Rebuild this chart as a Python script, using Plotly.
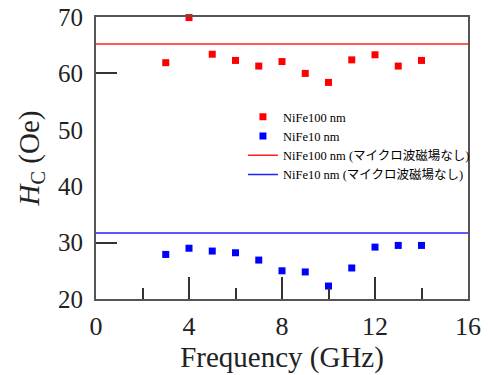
import plotly.graph_objects as go

freq = [3, 4, 5, 6, 7, 8, 9, 10, 11, 12, 13, 14]
hc_100 = [61.9, 69.9, 63.4, 62.3, 61.3, 62.1, 60.0, 58.4, 62.4, 63.3, 61.3, 62.3]
hc_10 = [27.9, 29.0, 28.5, 28.2, 26.9, 25.0, 24.8, 22.3, 25.5, 29.2, 29.5, 29.5]
ref_100 = 65.2
ref_10 = 31.7
names = ["NiFe100 nm", "NiFe10 nm",
         "NiFe100 nm (マイクロ波磁場なし)", "NiFe10 nm (マイクロ波磁場なし)"]

serif = "Liberation Serif, Times New Roman, serif"
legfont = "Liberation Serif, Noto Sans CJK JP, serif"

fig = go.Figure()
fig.add_trace(go.Scatter(x=freq, y=hc_100, mode="markers", name=names[0],
                         marker=dict(symbol="square", size=7, color="#ff0000"),
                         cliponaxis=False))
fig.add_trace(go.Scatter(x=freq, y=hc_10, mode="markers", name=names[1],
                         marker=dict(symbol="square", size=7, color="#0000ff"),
                         cliponaxis=False))
fig.add_trace(go.Scatter(x=[0, 16], y=[ref_100, ref_100], mode="lines", name=names[2],
                         line=dict(color="#ff2020", width=1.5)))
fig.add_trace(go.Scatter(x=[0, 16], y=[ref_10, ref_10], mode="lines", name=names[3],
                         line=dict(color="#2020ff", width=1.5)))

# page has an 8px body margin, so the figure is offset to land the plot area where the reference has it
fig.update_layout(
    width=481, height=367,
    margin=dict(l=88, r=21, t=9, b=76),
    paper_bgcolor="white", plot_bgcolor="white",
    showlegend=True,
    legend=dict(x=0.395, y=0.698, xanchor="left", yanchor="top",
                font=dict(family=legfont, size=12.5, color="black"),
                bgcolor="rgba(0,0,0,0)", tracegroupgap=0, itemwidth=30),
    xaxis=dict(range=[0, 16], tickmode="linear", tick0=0, dtick=4,
               automargin=False, ticklabeloverflow="allow",
               ticks="inside", ticklen=22, tickwidth=1.5, tickcolor="#333",
               minor=dict(ticks="inside", dtick=2, tick0=0, ticklen=11,
                          tickwidth=1.5, tickcolor="#333"),
               showgrid=False, zeroline=False,
               showline=True, linecolor="#555", linewidth=2, mirror=True,
               ticklabelstandoff=3,
               tickfont=dict(family=serif, size=26, color="#222"),
               title=dict(text="Frequency (GHz)", standoff=2,
                          font=dict(family=serif, size=29, color="#222"))),
    yaxis=dict(range=[20, 70], tickmode="linear", tick0=20, dtick=10,
               automargin=False, ticklabeloverflow="allow",
               ticks="",
               minor=dict(ticks="inside", tickmode="array", tickvals=[30, 60],
                          ticklen=21, tickwidth=1.5, tickcolor="#333"),
               showgrid=False, zeroline=False,
               showline=True, linecolor="#555", linewidth=2, mirror=True,
               ticklabelstandoff=6,
               tickfont=dict(family=serif, size=25, color="#222"),
               title=dict(text="<i>H</i><sub>C</sub> (Oe)", standoff=10,
                          font=dict(family=serif, size=29, color="#222"))),
)

fig.write_html("out.html")
